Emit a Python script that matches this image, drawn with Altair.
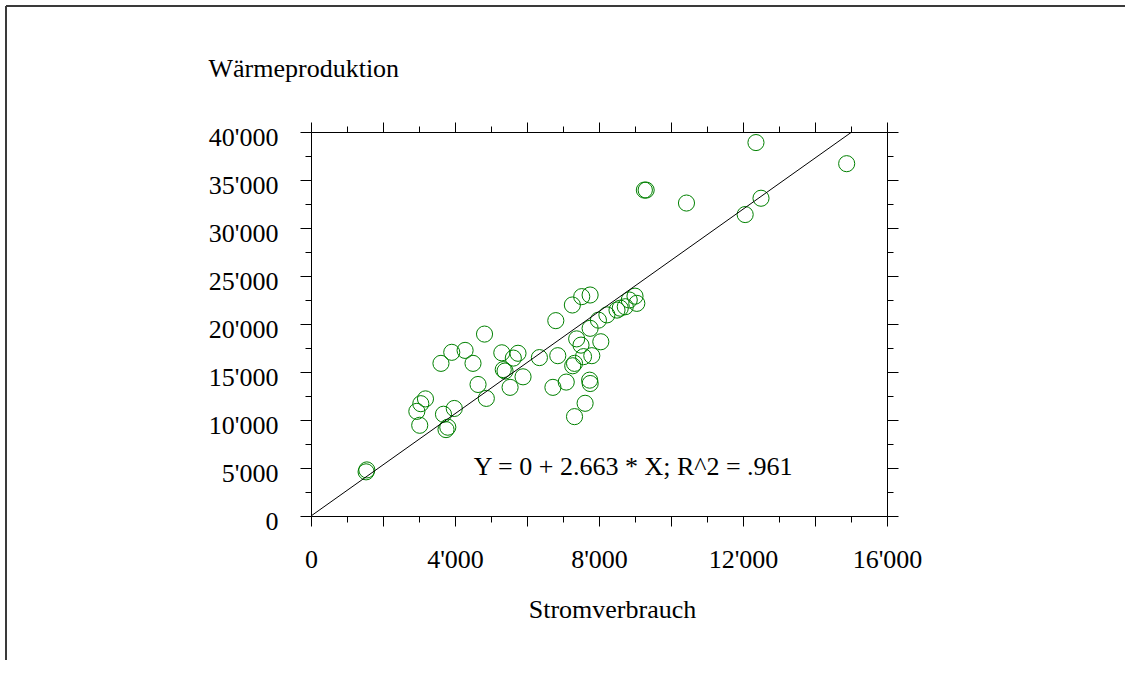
import altair as alt
import pandas as pd

# ---- data ----
strom = [1530, 1550, 2940, 3020, 3050, 3180, 3610, 3680, 3750, 3800,
         3910, 3980, 4280, 4500, 4640, 4820, 4870, 5300, 5340, 5390,
         5530, 5620, 5750, 5890, 6345, 6720, 6800, 6855, 7090, 7270,
         7320, 7260, 7320, 7380, 7500, 7520, 7570, 7614, 7740, 7755,
         7753, 7753, 7800, 7984, 8050, 8220, 8500, 8590, 8730, 8840,
         9000, 9050, 9260, 9310, 10430, 12060, 12360, 12500, 14880]
waerme = [4600, 4800, 10900, 9450, 11700, 12200, 15900, 10600, 9000, 9250,
          17050, 11200, 17250, 15900, 13700, 18950, 12250, 17000, 15250, 15100,
          13400, 16450, 16950, 14500, 16500, 13400, 20350, 16700, 13950, 15650,
          15900, 21980, 10350, 18450, 17800, 22850, 16600, 11740, 14150, 13800,
          23020, 19550, 16700, 20400, 18150, 20950, 21450, 21650, 21800, 22500,
          22900, 22150, 33950, 33950, 32600, 31400, 38900, 33100, 36700]

fit_x = [0, 15000]
fit_y = [0, 39945]

eq_text = ["Y = 0 + 2.663 * X; R^2 = .961"]
eq_x = [8950]
eq_y = [4270]

x_ticks = [0, 1000, 2000, 3000, 4000, 5000, 6000, 7000, 8000, 9000, 10000,
           11000, 12000, 13000, 14000, 15000, 16000]
y_ticks = [0, 2500, 5000, 7500, 10000, 12500, 15000, 17500, 20000, 22500,
           25000, 27500, 30000, 32500, 35000, 37500, 40000]

x_title = "Stromverbrauch"
y_title = "Wärmeproduktion"

FONT = "Liberation Serif"
FS = 26
W, H = 576, 384
LEFT, TOP = 311, 132

pts = pd.DataFrame({"Stromverbrauch": strom, "Wärmeproduktion": waerme})
fit = pd.DataFrame({"Stromverbrauch": fit_x, "Wärmeproduktion": fit_y})
eq = pd.DataFrame({"t": eq_text, "x": eq_x, "y": eq_y})

xs = alt.Scale(domain=[0, 16000], nice=False, zero=False)
ys = alt.Scale(domain=[0, 40000], nice=False, zero=False)

lab_x = "datum.value % 4000 === 0 ? replace(format(datum.value, ','), ',', \"'\") : ''"
lab_y = "datum.value % 5000 === 0 ? replace(format(datum.value, ','), ',', \"'\") : ''"
tick_x = {"condition": {"test": "datum.value % 2000 === 0", "value": 10}, "value": 6}
tick_y = {"condition": {"test": "datum.value % 5000 === 0", "value": 11}, "value": 6}

common = dict(domainColor="black", domainWidth=1, tickColor="black", tickWidth=1,
              grid=False, labelFont=FONT, labelFontSize=FS, labelColor="black",
              labelOverlap=False, labelFlush=False)

ax_bottom = alt.Axis(orient="bottom", values=x_ticks, labelExpr=lab_x, tickSize=tick_x,
                     labelPadding=20, labelBaseline="top",
                     title=x_title, titleFont=FONT, titleFontSize=FS, titleFontWeight="normal",
                     titleColor="black", titleX=301, titleY=101, titleAlign="center",
                     titleBaseline="alphabetic", **common)
ax_left = alt.Axis(orient="left", values=y_ticks, labelExpr=lab_y, tickSize=tick_y,
                   labelPadding=22, labelOffset=5, labelBaseline="middle",
                   title=y_title, titleFont=FONT, titleFontSize=FS, titleFontWeight="normal",
                   titleColor="black", titleAngle=0, titleX=-103, titleY=-56,
                   titleAlign="left", titleBaseline="alphabetic", **common)
ax_top = alt.Axis(orient="top", values=x_ticks, labels=False, tickSize=tick_x, title=None,
                  domainColor="black", tickColor="black", grid=False)
ax_right = alt.Axis(orient="right", values=y_ticks, labels=False, tickSize=tick_y, title=None,
                    domainColor="black", tickColor="black", grid=False)

points = alt.Chart(pts).mark_point(
    shape="circle", filled=False, color="#008000", size=260, strokeWidth=1, opacity=1
).encode(
    x=alt.X("Stromverbrauch:Q", scale=xs, axis=ax_bottom),
    y=alt.Y("Wärmeproduktion:Q", scale=ys, axis=ax_left),
)

line = alt.Chart(fit).mark_line(color="black", strokeWidth=1).encode(
    x=alt.X("Stromverbrauch:Q", scale=xs, axis=ax_top),
    y=alt.Y("Wärmeproduktion:Q", scale=ys, axis=ax_right),
)

text = alt.Chart(eq).mark_text(font=FONT, fontSize=FS, color="black",
                               align="center", baseline="alphabetic").encode(
    x=alt.X("x:Q", scale=xs, axis=None),
    y=alt.Y("y:Q", scale=ys, axis=None),
    text="t:N",
)

frame_df = pd.DataFrame({"a": [0]})
frame_left = alt.Chart(frame_df).mark_rule(color="#3a3a3a", strokeWidth=2).encode(
    x=alt.value(6 - LEFT), y=alt.value(6 - TOP), y2=alt.value(660 - TOP))
frame_top = alt.Chart(frame_df).mark_rule(color="#3a3a3a", strokeWidth=2).encode(
    x=alt.value(6 - LEFT), x2=alt.value(1125 - LEFT), y=alt.value(6 - TOP))

chart = alt.layer(points, line, text, frame_left, frame_top).resolve_axis(
    x="independent", y="independent"
).properties(
    width=W, height=H,
    autosize=alt.AutoSizeParams(type="none"),
    padding={"left": LEFT, "top": TOP, "right": 1125 - LEFT - W, "bottom": 674 - TOP - H},
    background="white",
).configure_view(stroke=None)

chart.save("out.html", embed_options={"renderer": "svg", "actions": False})
